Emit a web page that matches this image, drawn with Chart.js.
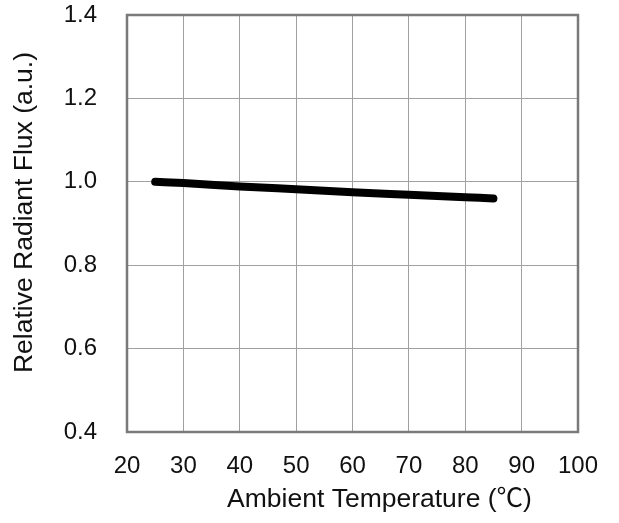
<!DOCTYPE html>
<html>
<head>
<meta charset="utf-8">
<script src="https://cdn.jsdelivr.net/npm/chart.js@4/dist/chart.umd.min.js"></script>
<style>
  html, body { margin: 0; padding: 0; background: #ffffff; }
  #wrap { width: 619px; height: 523px; }
</style>
</head>
<body>
<div id="wrap"><canvas id="c" width="619" height="523"></canvas></div>
<script>
const temperatures = [25, 30, 40, 50, 60, 70, 80, 85];
const relativeFlux = [1.000, 0.997, 0.989, 0.982, 0.975, 0.969, 0.963, 0.960];
const xTitle = 'Ambient Temperature (℃)';
const yTitle = 'Relative Radiant Flux (a.u.)';
const xRange = { min: 20, max: 100, step: 10 };
const yRange = { min: 0.4, max: 1.4, step: 0.2 };

const FONT = "'Liberation Sans', Arial, 'Noto Sans CJK SC', sans-serif";

const framePlugin = {
  id: 'frame',
  beforeDatasetsDraw(chart) {
    const { ctx, chartArea: a } = chart;
    ctx.save();
    ctx.strokeStyle = '#7a7a7a';
    ctx.lineWidth = 2.5;
    ctx.strokeRect(a.left, a.top, a.right - a.left, a.bottom - a.top);
    ctx.restore();
  }
};

const titlesPlugin = {
  id: 'titles',
  afterDraw(chart) {
    const { ctx, chartArea: a } = chart;
    ctx.save();
    ctx.fillStyle = '#111111';
    ctx.font = '26.5px ' + FONT;
    ctx.textAlign = 'center';
    ctx.textBaseline = 'middle';
    ctx.fillText(xTitle, (a.left + a.right) / 2 + 27, a.bottom + 68);
    ctx.translate(25, (a.top + a.bottom) / 2 - 11);
    ctx.rotate(-Math.PI / 2);
    ctx.fillText(yTitle, 0, 0);
    ctx.restore();
  }
};

new Chart(document.getElementById('c'), {
  type: 'line',
  data: {
    datasets: [{
      data: temperatures.map((t, i) => ({ x: t, y: relativeFlux[i] })),
      borderColor: '#000000',
      borderWidth: 8,
      borderCapStyle: 'round',
      borderJoinStyle: 'round',
      pointRadius: 0,
      cubicInterpolationMode: 'monotone',
      fill: false
    }]
  },
  options: {
    responsive: false,
    animation: false,
    events: [],
    layout: { padding: { left: 0, right: 41, top: 15, bottom: 0 } },
    plugins: { legend: { display: false }, tooltip: { enabled: false } },
    scales: {
      x: {
        type: 'linear',
        min: xRange.min, max: xRange.max,
        afterFit(s) { s.height = 91; s.paddingLeft = 0; s.paddingRight = 0; },
        border: { display: false },
        grid: { color: '#a0a0a0', lineWidth: 1, drawTicks: false },
        ticks: {
          stepSize: xRange.step,
          padding: 20,
          color: '#111111',
          font: { family: FONT, size: 24 },
          maxRotation: 0,
          autoSkip: false
        },
        title: { display: false }
      },
      y: {
        type: 'linear',
        min: yRange.min, max: yRange.max,
        afterFit(s) { s.width = 127; s.paddingTop = 0; s.paddingBottom = 0; },
        border: { display: false },
        grid: { color: '#a0a0a0', lineWidth: 1, drawTicks: false },
        ticks: {
          stepSize: yRange.step,
          padding: 30,
          color: '#111111',
          font: { family: FONT, size: 24 },
          callback: v => v.toFixed(1)
        },
        title: { display: false }
      }
    }
  },
  plugins: [framePlugin, titlesPlugin]
});
</script>
</body>
</html>
